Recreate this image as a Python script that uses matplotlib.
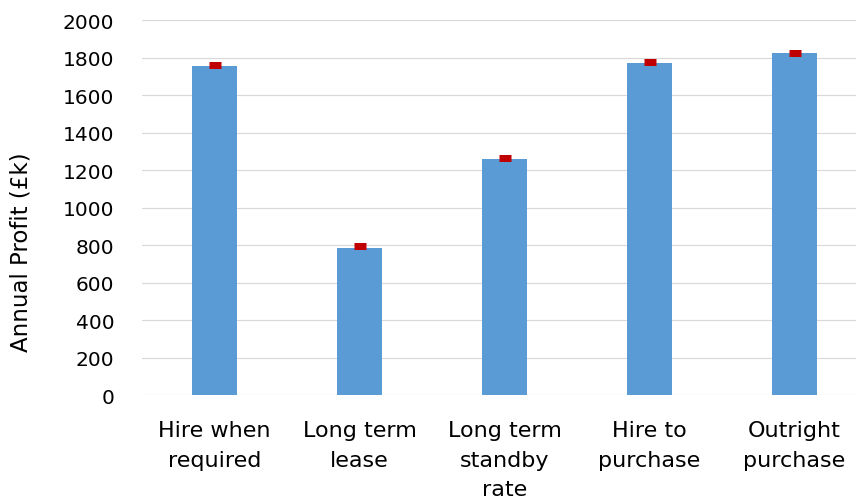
import matplotlib
matplotlib.use("Agg")
import matplotlib.pyplot as plt
import numpy as np

# Annual profit by procurement option (£k)
categories = ["Hire when\nrequired", "Long term\nlease", "Long term\nstandby\nrate",
              "Hire to\npurchase", "Outright\npurchase"]
profit = [1755, 785, 1260, 1772, 1825]
marker_values = [1760, 795, 1265, 1778, 1828]
y_ticks = [0, 200, 400, 600, 800, 1000, 1200, 1400, 1600, 1800, 2000]

W, H, DPI = 856, 502, 100
fig = plt.figure(figsize=(W / DPI, H / DPI), dpi=DPI)
ax = fig.add_axes([142 / W, 1 - 396.3 / H, 714 / W, 375 / H])

x = np.arange(len(categories))
ax.bar(x, profit, width=0.31, color="#5B9BD5", zorder=2)

px = 72 / DPI  # points per pixel
ax.plot(x, marker_values, linestyle="none", marker="_", color="#C00000",
        markersize=12 * px, markeredgewidth=7 * px, zorder=3)

ax.set_ylim(0, 2000)
ax.set_xlim(-0.5, -0.5 + 714 / 145)
ax.set_yticks(y_ticks)
ax.set_yticklabels([str(v) for v in y_ticks], fontsize=14.5, color="#000000")
ax.set_xticks(x)
ax.set_xticklabels(categories, fontsize=16, color="#000000", linespacing=1.6)
ax.tick_params(axis="y", length=0, pad=20)
ax.tick_params(axis="x", length=0, pad=18)

ax.grid(axis="y", color="#D9D9D9", linewidth=1.2 * px, zorder=0)
ax.set_axisbelow(True)
for s in ax.spines.values():
    s.set_visible(False)

ax.set_ylabel("Annual Profit (£k)", fontsize=16.5)
ax.yaxis.set_label_coords(-0.153, 0.385)

fig.savefig("out.png", dpi=DPI, facecolor="white")
